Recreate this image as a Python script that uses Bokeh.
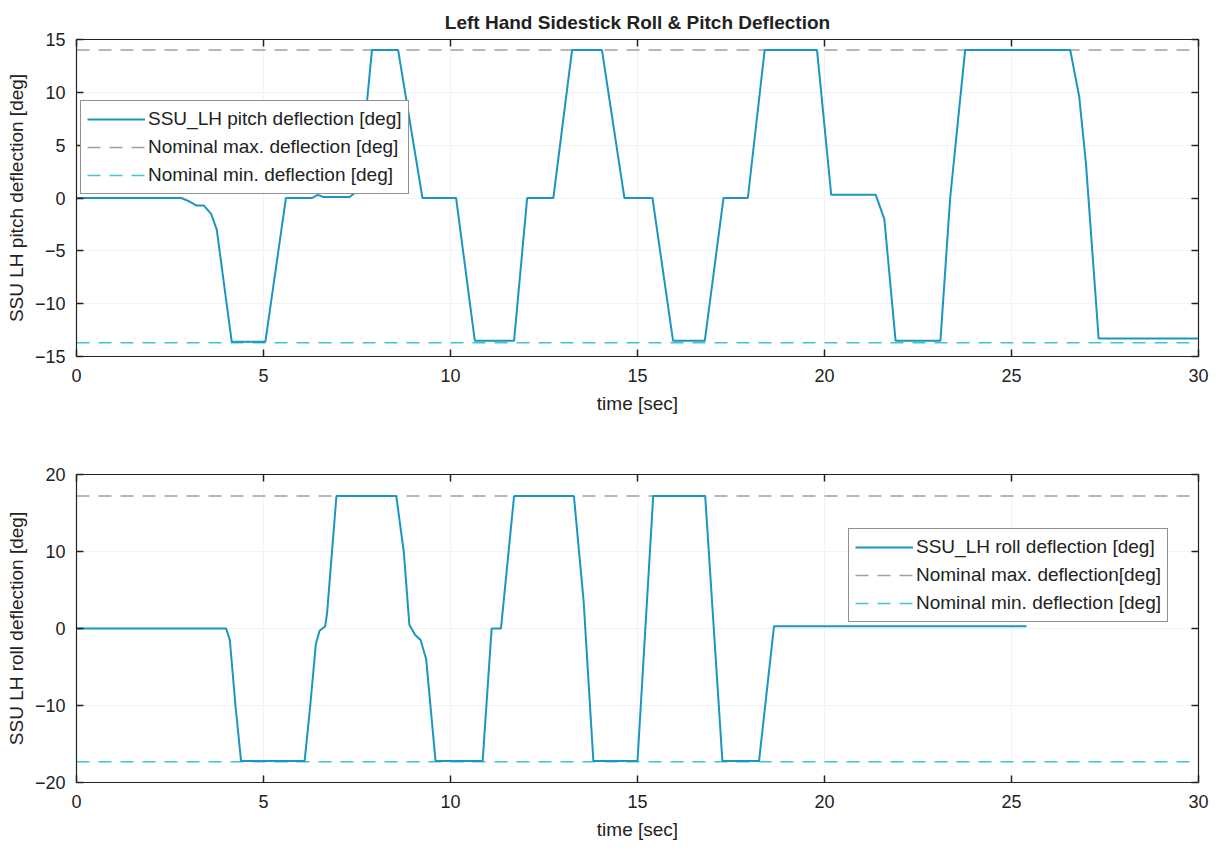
from bokeh.plotting import figure
from bokeh.models import (LinearAxis, Range1d, FixedTicker, CustomJSTickFormatter,
                          Legend, LegendItem)
from bokeh.layouts import column
from bokeh.embed import file_html
from bokeh.resources import INLINE

# ---------------- data ----------------
title_text = "Left Hand Sidestick Roll & Pitch Deflection"

x_ticks = [0, 5, 10, 15, 20, 25, 30]
pitch_y_ticks = [-15, -10, -5, 0, 5, 10, 15]
roll_y_ticks = [-20, -10, 0, 10, 20]

nominal_t = [0, 30]

pitch_time = [0.0, 2.8, 3.0, 3.2, 3.4, 3.6, 3.75, 4.15, 5.05, 5.6,
              6.3, 6.45, 6.6, 7.3, 7.45, 7.6, 7.9, 8.6, 9.25, 10.15,
              10.65, 11.7, 12.05, 12.75, 13.25, 14.05, 14.65, 15.4, 15.95, 16.8,
              17.3, 17.95, 18.4, 19.8, 20.18, 21.37, 21.6, 21.9, 23.1, 23.36,
              23.76, 26.57, 26.81, 26.99, 27.33, 30.0]
pitch_deg = [0.0, 0.0, -0.3, -0.7, -0.7, -1.5, -3.0, -13.6, -13.6, 0.0,
             0.0, 0.3, 0.1, 0.1, 0.5, 3.0, 14.0, 14.0, 0.0, 0.0,
             -13.5, -13.5, 0.0, 0.0, 14.0, 14.0, 0.0, 0.0, -13.5, -13.5,
             0.0, 0.0, 14.0, 14.0, 0.3, 0.3, -2.0, -13.5, -13.5, 0.0,
             14.0, 14.0, 9.6, 3.3, -13.3, -13.3]
pitch_nom_max = [14.0, 14.0]
pitch_nom_min = [-13.7, -13.7]

roll_time = [0.0, 4.0, 4.1, 4.25, 4.4, 6.1, 6.25, 6.4, 6.5, 6.65,
             6.7, 6.95, 8.55, 8.75, 8.9, 9.05, 9.2, 9.35, 9.6, 10.86,
             11.1, 11.35, 11.7, 13.3, 13.56, 13.82, 15.0, 15.42, 16.81, 17.27,
             18.25, 18.65, 25.4]
roll_deg = [0.0, 0.0, -1.5, -10.0, -17.2, -17.2, -10.0, -2.0, -0.3, 0.3,
            2.0, 17.2, 17.2, 10.0, 0.5, -0.8, -1.5, -4.0, -17.2, -17.2,
            0.0, 0.0, 17.2, 17.2, 3.5, -17.2, -17.2, 17.2, 17.2, -17.2,
            -17.2, 0.3, 0.3]
roll_nom_max = [17.2, 17.2]
roll_nom_min = [-17.3, -17.3]

# ---------------- styling ----------------
FONT = "Liberation Sans"
TRACE = "#1a96c0"
GREY = "#a0a0a0"
CYAN = "#3cc6d6"
INK = "#222222"


def empty_axis(ticks):
    ax = LinearAxis(ticker=FixedTicker(ticks=ticks),
                    formatter=CustomJSTickFormatter(code="return ''"))
    ax.major_tick_in = 7
    ax.major_tick_out = 0
    ax.major_tick_line_width = 1.5
    ax.minor_tick_line_color = None
    ax.axis_line_color = INK
    ax.major_tick_line_color = INK
    ax.major_label_text_font_size = "1px"
    ax.major_label_standoff = 0
    return ax


def make_fig(yr, yticks, ylabel, height, top, bottom, xlabel_standoff, tick_standoff):
    p = figure(width=1216, height=height, output_backend="svg", toolbar_location=None,
               x_range=Range1d(0, 30), y_range=Range1d(*yr),
               min_border_left=76, min_border_right=18,
               min_border_top=top, min_border_bottom=bottom)
    p.background_fill_color = "white"
    p.outline_line_color = INK
    p.outline_line_width = 1.2
    p.xaxis.ticker = FixedTicker(ticks=x_ticks)
    p.yaxis.ticker = FixedTicker(ticks=yticks)
    for ax in (p.xaxis[0], p.yaxis[0]):
        ax.major_tick_in = 7
        ax.major_tick_out = 0
        ax.major_tick_line_width = 1.5
        ax.minor_tick_line_color = None
        ax.axis_line_color = INK
        ax.major_tick_line_color = INK
        ax.major_label_text_font = FONT
        ax.major_label_text_font_size = "18px"
        ax.major_label_text_color = INK
        ax.axis_label_text_font = FONT
        ax.axis_label_text_font_size = "19px"
        ax.axis_label_text_font_style = "normal"
        ax.axis_label_text_color = INK
    p.xaxis.axis_label = "time [sec]"
    p.xaxis.major_label_standoff = tick_standoff
    p.xaxis.axis_label_standoff = xlabel_standoff
    p.yaxis.axis_label = ylabel
    p.yaxis.major_label_standoff = 11
    p.yaxis.axis_label_standoff = 5
    p.add_layout(empty_axis(yticks), "right")
    p.add_layout(empty_axis(x_ticks), "above")
    p.xgrid.grid_line_color = "#f3f3f3"
    p.ygrid.grid_line_color = "#f3f3f3"
    p.xgrid.ticker = FixedTicker(ticks=x_ticks)
    p.ygrid.ticker = FixedTicker(ticks=yticks)
    return p


def add_series(p, t, v, vmax, vmin, labels, loc):
    r_max = p.line(nominal_t, vmax, line_color=GREY, line_width=1.5, line_dash="13 9")
    r_min = p.line(nominal_t, vmin, line_color=CYAN, line_width=1.5, line_dash="13 9")
    r_sig = p.line(t, v, line_color=TRACE, line_width=2)
    legend = Legend(items=[LegendItem(label=labels[0], renderers=[r_sig]),
                           LegendItem(label=labels[1], renderers=[r_max]),
                           LegendItem(label=labels[2], renderers=[r_min])],
                    location=loc)
    legend.border_line_color = INK
    legend.border_line_width = 1.2
    legend.background_fill_color = "white"
    legend.background_fill_alpha = 1
    legend.label_text_font = FONT
    legend.label_text_font_size = "19px"
    legend.label_text_color = INK
    legend.glyph_width = 58
    legend.glyph_height = 24
    legend.label_height = 24
    legend.spacing = 4
    legend.padding = 6
    legend.margin = 0
    legend.label_standoff = 3
    p.add_layout(legend, "center")


p1 = make_fig((-15, 15), pitch_y_ticks, "SSU LH pitch deflection [deg]",
              439, 39, 83, 8, 12)
p1.title.text = title_text
p1.title.align = "center"
p1.title.text_font = FONT
p1.title.text_font_size = "19px"
p1.title.text_font_style = "bold"
p1.title.text_color = INK
p1.title.standoff = 14
add_series(p1, pitch_time, pitch_deg, pitch_nom_max, pitch_nom_min,
           ["SSU_LH pitch deflection [deg]", "Nominal max. deflection [deg]",
            "Nominal min. deflection [deg]"], (4, 162))

p2 = make_fig((-20, 20), roll_y_ticks, "SSU LH roll deflection [deg]",
              403, 35, 58, 8, 12)
add_series(p2, roll_time, roll_deg, roll_nom_max, roll_nom_min,
           ["SSU_LH roll deflection [deg]", "Nominal max. deflection[deg]",
            "Nominal min. deflection [deg]"], (772, 160))

layout = column(p1, p2, spacing=0)
open("out.html", "w").write(file_html(layout, INLINE))
